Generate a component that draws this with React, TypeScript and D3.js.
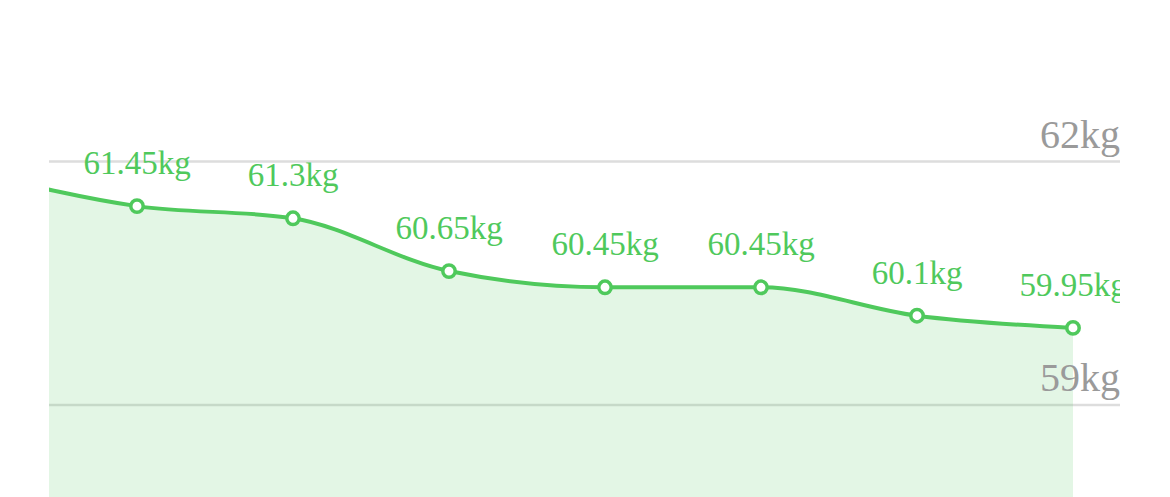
import React from "react";
import * as d3 from "d3";

const W = 1170;
const H = 497;

// index 0 is a point scrolled out of view on the left
const dates = ["p0", "p1", "p2", "p3", "p4", "p5", "p6", "p7"];
const weights = [61.85, 61.45, 61.3, 60.65, 60.45, 60.45, 60.1, 59.95];
const visible = [false, true, true, true, true, true, true, true];
const yTicks = [59, 62];
const unit = "kg";

const LINE = "#4fc95c";

export default function App() {
  const x = d3.scaleLinear().domain([0, dates.length - 1]).range([-19, 1073]);
  const y = d3.scaleLinear().domain([59, 62]).range([405, 161.5]);
  const clipL = 49;
  const clipR = 1120;

  const pts = weights.map((v, i) => [x(i), y(v)] as [number, number]);
  const line = d3.line().curve(d3.curveMonotoneX)(pts) || "";
  const area =
    d3
      .area()
      .curve(d3.curveMonotoneX)
      .x((d) => d[0])
      .y0(y(56))
      .y1((d) => d[1])(pts) || "";

  return (
    <svg
      width={W}
      height={H}
      style={{ position: "fixed", left: 0, top: 0, background: "#fff" }}
      fontFamily="'Liberation Serif', 'Times New Roman', serif"
    >
      <defs>
        <clipPath id="plot">
          <rect x={clipL} y={0} width={clipR - clipL} height={H} />
        </clipPath>
      </defs>
      {yTicks.map((t) => (
        <line
          key={"g" + t}
          x1={clipL}
          x2={clipR}
          y1={y(t)}
          y2={y(t)}
          stroke="#dddddd"
          strokeWidth={2.5}
        />
      ))}
      <g clipPath="url(#plot)">
        <path d={area} fill={LINE} fillOpacity={0.16} />
        <path d={line} fill="none" stroke={LINE} strokeWidth={4} />
        {pts.map((p, i) =>
          visible[i] ? (
            <circle
              key={"c" + i}
              cx={p[0]}
              cy={p[1]}
              r={6.2}
              fill="#fff"
              stroke={LINE}
              strokeWidth={3.5}
            />
          ) : null
        )}
        {pts.map((p, i) =>
          visible[i] ? (
            <text
              key={"t" + i}
              x={p[0]}
              y={p[1] - 32}
              textAnchor="middle"
              fontSize={33}
              fill={LINE}
            >
              {weights[i] + unit}
            </text>
          ) : null
        )}
      </g>
      {yTicks.map((t) => (
        <text
          key={"l" + t}
          x={clipR}
          y={y(t) - 14}
          textAnchor="end"
          fontSize={40}
          fill="#9a9a9a"
        >
          {t + unit}
        </text>
      ))}
    </svg>
  );
}
